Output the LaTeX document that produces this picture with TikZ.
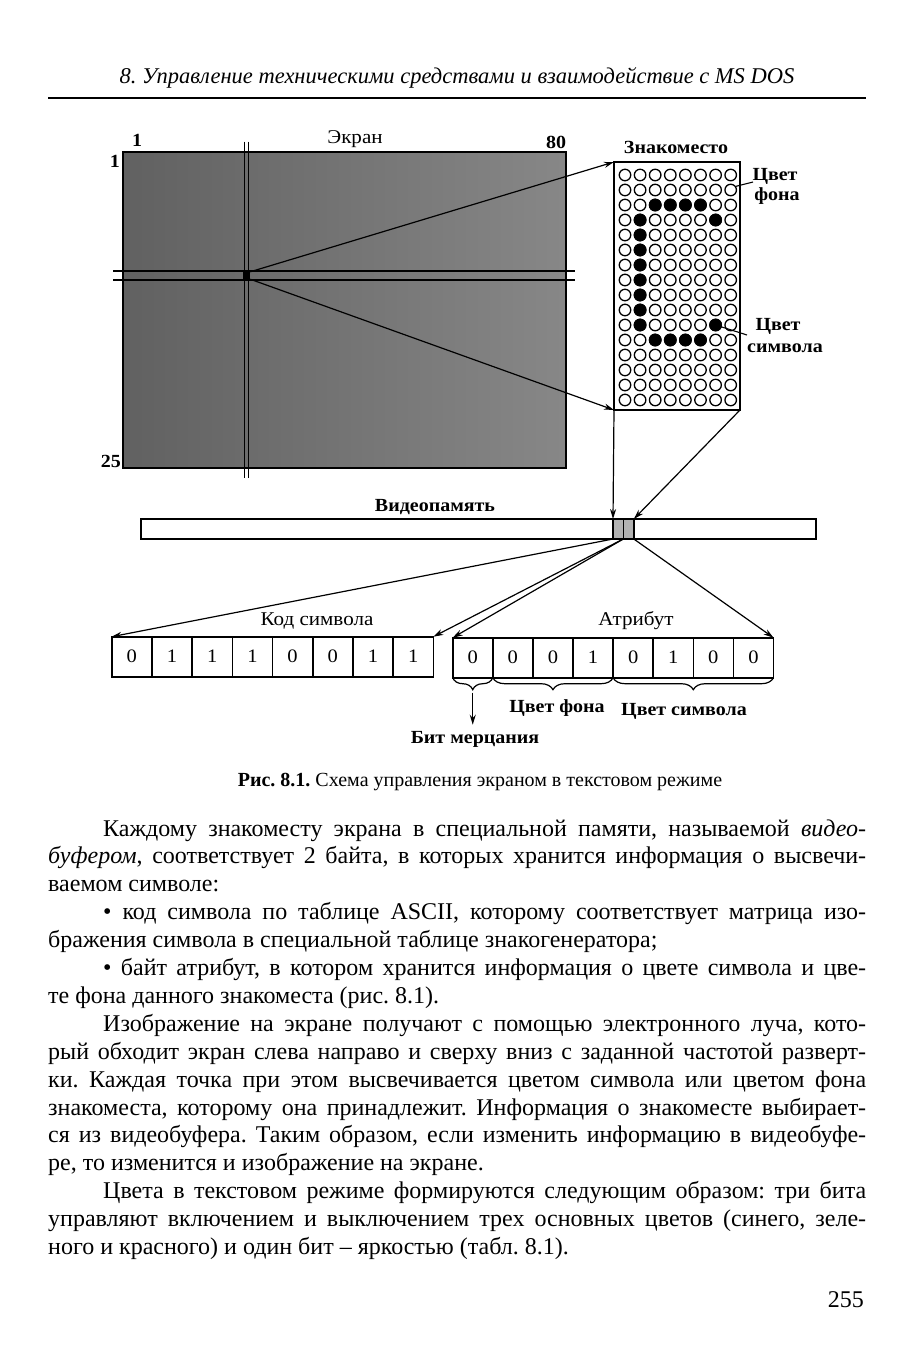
\documentclass[tikz,border=0pt]{standalone}
\usepackage{fontspec}
\setmainfont{Liberation Serif}
\newfontfamily\diafont[FakeStretch=1.08]{Liberation Serif}
\usetikzlibrary{arrows.meta,decorations.pathreplacing,calc}
\frenchspacing
\newlength\tw
\setlength\tw{818pt}
\newcommand\firstln[1]{\hbox to \tw{\hskip55pt #1}}
\newcommand\midln[1]{\hbox to \tw{#1}}
\newcommand\lastln[1]{\hbox to \tw{#1\hfil}}
\begin{document}
\begin{tikzpicture}[x=1pt,y=-1pt,
  box/.style={draw,line width=1.6pt,inner sep=0,outer sep=0},
  bit/.style={box,minimum width=40.2pt,minimum height=40pt,font=\diafont\fontsize{19}{21}\selectfont},
  arr/.style={line width=1.2pt,-{Stealth[length=10pt,width=6pt]}},
  lbl/.style={font=\diafont\fontsize{19.5}{21}\selectfont,inner sep=0},
  blbl/.style={font=\diafont\fontsize{18.5}{20}\selectfont\bfseries,inner sep=0},
  ring/.style={draw,line width=1.3pt,circle,minimum size=11.5pt,inner sep=0},
  dotc/.style={ring,fill=black},
  brc/.style={line width=1.2pt,decorate,decoration={brace,mirror,amplitude=12pt}},
  cross/.style={line width=1.4pt},
]
\useasboundingbox (0,0) rectangle (903,1352);
\fill[white] (0,0) rectangle (903,1352);

% header
\node[anchor=base,inner sep=0,font=\fontsize{22.5}{26}\selectfont\itshape] (head) at (457,83)
  {8. Управление техническими средствами и взаимодействие с MS DOS};
\coordinate (rl) at (48,98);
\coordinate (rr) at (866,98);
\draw[line width=2.5pt] (rl) -- (rr);

% screen
\node[box,minimum width=443pt,minimum height=316pt,anchor=north west,
  left color=black!62,right color=black!47] (screen) at (123,152) {};
\draw[cross] (244.3,141.7) -- (244.3,478) (248.7,141.7) -- (248.7,478);
\draw[cross] (113,271) -- (575,271) (113,280) -- (575,280);
\node[fill=black,minimum size=7pt,inner sep=0] (pix) at (246.5,275.5) {};
\node[blbl,anchor=base] (n1) at (137,146) {1};
\node[lbl,anchor=base] (ekran) at (355,143) {Экран};
\node[blbl,anchor=base] (n80) at (556,148) {80};
\node[blbl,anchor=base east] (r1) at (120,167) {1};
\node[blbl,anchor=base east] (r25) at (121,467) {25};

% character cell
\node[box,minimum width=126pt,minimum height=248pt,anchor=north west] (mtx) at (614,162) {};
\node[blbl,anchor=base] (znak) at (676,153) {Знакоместо};
\foreach \r in {0,...,15}
  \foreach \c in {0,...,7}
    \node[ring] (o-\r-\c) at ({625+15.1*\c},{175+15*\r}) {};
\foreach \r/\c in {2/2,2/3,2/4,2/5,3/1,3/6,4/1,5/1,6/1,7/1,8/1,9/1,10/1,10/6,11/2,11/3,11/4,11/5}
  \node[dotc] at (o-\r-\c) {};
\coordinate (fonpt) at (753,182);
\coordinate (sympt) at (747,335);
\draw[line width=1.1pt] (o-1-7.35) -- (fonpt);
\draw[line width=1.1pt] (o-10-6.center) -- (sympt);
\node[blbl,anchor=base] (cf1) at (775,180) {Цвет};
\node[blbl,anchor=base] (cf2) at (777,200) {фона};
\node[blbl,anchor=base] (cs1) at (778,330) {Цвет};
\node[blbl,anchor=base] (cs2) at (785,352) {символа};

\draw[arr] (pix.north east) -- (mtx.north west);
\draw[arr] (pix.south east) -- (mtx.south west);

% video memory
\node[box,minimum width=675pt,minimum height=20pt,anchor=north west] (bar) at (141,519) {};
\node[blbl,anchor=base] (vp) at (435,511) {Видеопамять};
\node[box,fill=black!30,minimum width=10.3pt,minimum height=20pt,anchor=north west] (cA) at (613,519) {};
\node[box,fill=black!30,minimum width=10.3pt,minimum height=20pt,anchor=north west] (cB) at (623.5,519) {};
\draw[arr] (mtx.south west) -- (cA.north west);
\draw[arr] (mtx.south east) -- (cB.north east);

% bytes
\foreach \i/\v in {1/0,2/1,3/1,4/1,5/0,6/0,7/1,8/1}
  \node[bit,anchor=north west] (k\i) at ({111.7+40.2*(\i-1)},636.7) {\v};
\foreach \i/\v in {1/0,2/0,3/0,4/1,5/0,6/1,7/0,8/0}
  \node[bit,anchor=north west,minimum width=40.1pt] (a\i) at ({452.7+40.1*(\i-1)},637.7) {\v};
\node[lbl,anchor=base] (kod) at (317,625) {Код символа};
\node[lbl,anchor=base] (attr) at (636,625) {Атрибут};

\draw[arr] (cA.south west) -- (k1.north west);
\draw[arr] (cA.south east) -- (k8.north east);
\draw[arr] (cA.south east) -- (a1.north west);
\draw[arr] (cB.south east) -- (a8.north east);

\draw[brc] (a1.south west) -- (a1.south east);
\draw[brc] (a2.south west) -- (a4.south east);
\draw[brc] (a5.south west) -- (a8.south east);
\coordinate (bt) at ($(a1.south)+(0,15)$);
\coordinate (bb) at ($(a1.south)+(0,47)$);
\draw[arr] (bt) -- (bb);
\node[blbl,anchor=base] (blink) at (475,743) {Бит мерцания};
\node[blbl,anchor=base] (cfon) at (557,712) {Цвет фона};
\node[blbl,anchor=base] (csym) at (684,715) {Цвет символа};

% caption
\node[anchor=base,inner sep=0,font=\fontsize{20}{24}\selectfont] (cap) at (480,786)
  {\textbf{Рис. 8.1.} Схема управления экраном в текстовом режиме};

% body text
\node[anchor=base west,inner sep=0,font=\fontsize{24}{27.9}\selectfont] (body) at (48,1254.5) {\vbox{%
\firstln{Каждому знакоместу экрана в специальной памяти, называемой \textit{видео-}}
\midln{\textit{буфером}, соответствует 2 байта, в которых хранится информация о высвечи-}
\lastln{ваемом символе:}
\firstln{• код символа по таблице ASCII, которому соответствует матрица изо-}
\lastln{бражения символа в специальной таблице знакогенератора;}
\firstln{• байт атрибут, в котором хранится информация о цвете символа и цве-}
\lastln{те фона данного знакоместа (рис. 8.1).}
\firstln{Изображение на экране получают с помощью электронного луча, кото-}
\midln{рый обходит экран слева направо и сверху вниз с заданной частотой разверт-}
\midln{ки. Каждая точка при этом высвечивается цветом символа или цветом фона}
\midln{знакоместа, которому она принадлежит. Информация о знакоместе выбирает-}
\midln{ся из видеобуфера. Таким образом, если изменить информацию в видеобуфе-}
\lastln{ре, то изменится и изображение на экране.}
\firstln{Цвета в текстовом режиме формируются следующим образом: три бита}
\midln{управляют включением и выключением трех основных цветов (синего, зеле-}
\lastln{ного и красного) и один бит – яркостью (табл. 8.1).}}};

\node[anchor=base east,inner sep=0,font=\fontsize{24}{28}\selectfont] (pg) at (864,1307) {255};
\end{tikzpicture}
\end{document}
